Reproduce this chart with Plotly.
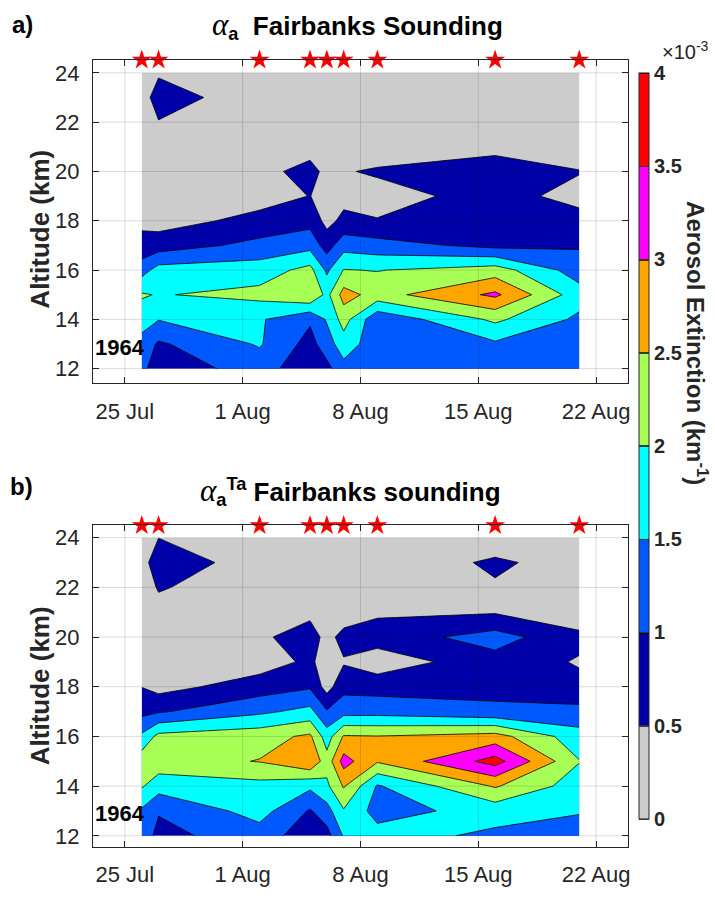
import numpy as np
import plotly.graph_objects as go

# ---------------- data ----------------
sounding_dates = ["1964-07-26", "1964-07-27", "1964-08-02", "1964-08-05", "1964-08-06",
                  "1964-08-07", "1964-08-09", "1964-08-16", "1964-08-21"]
altitude_km = [12, 13, 14, 15, 16, 17, 18, 19, 20, 21, 22, 23, 24]

# panel a) alpha_a, aerosol extinction (x1e-3 km^-1), altitude 12..24 km, one list per sounding
a_jul26 = [1.15, 1.30, 1.75, 2.05, 1.29, 0.645, 0.40, 0.25, 0.20, 0.20, 0.20, 0.20, 0.15]
a_jul27 = [0.70, 0.93, 1.52, 1.97, 1.70, 0.75, 0.30, 0.20, 0.20, 0.25, 0.47, 0.80, 0.42]
a_aug02 = [1.22, 1.55, 1.56, 2.15, 1.75, 1.15, 0.65, 0.30, 0.32, 0.20, 0.15, 0.13, 0.10]
a_aug05 = [0.67, 0.82, 1.07, 2.49, 2.16, 1.33, 0.83, 0.51, 0.70, 0.26, 0.20, 0.15, 0.10]
a_aug06 = [0.85, 1.27, 1.55, 1.85, 1.41, 0.78, 0.35, 0.30, 0.34, 0.20, 0.15, 0.12, 0.10]
a_aug07 = [1.33, 1.77, 2.21, 2.70, 2.02, 1.30, 0.62, 0.35, 0.47, 0.25, 0.20, 0.15, 0.10]
a_aug09 = [1.20, 1.20, 1.12, 2.30, 1.98, 1.20, 0.52, 0.35, 0.55, 0.25, 0.20, 0.15, 0.10]
a_aug16 = [1.20, 1.42, 2.10, 3.10, 2.24, 0.86, 0.75, 0.65, 0.99, 0.23, 0.20, 0.15, 0.10]
a_aug21 = [1.10, 1.20, 1.40, 1.72, 1.25, 0.95, 0.64, 0.37, 0.52, 0.20, 0.15, 0.12, 0.10]

# panel b) alpha_a^Ta
b_jul26 = [1.30, 1.43, 2.05, 2.30, 1.60, 0.85, 0.49, 0.25, 0.20, 0.20, 0.20, 0.17, 0.15]
b_jul27 = [0.85, 1.04, 1.71, 2.30, 2.15, 0.95, 0.32, 0.20, 0.20, 0.30, 0.55, 0.98, 0.49]
b_aug02 = [1.27, 1.70, 1.83, 2.52, 2.31, 1.40, 0.75, 0.25, 0.39, 0.20, 0.15, 0.12, 0.10]
b_aug05 = [0.70, 0.95, 1.60, 2.98, 2.59, 1.65, 0.94, 0.60, 0.80, 0.345, 0.20, 0.15, 0.10]
b_aug06 = [0.80, 1.30, 1.90, 2.20, 1.75, 1.05, 0.30, 0.25, 0.30, 0.20, 0.15, 0.12, 0.10]
b_aug07 = [1.55, 1.95, 2.55, 3.20, 2.55, 1.30, 0.85, 0.45, 0.70, 0.15, 0.12, 0.10, 0.10]
b_aug09 = [1.70, 1.30, 1.45, 2.55, 2.52, 1.31, 0.81, 0.20, 0.75, 0.42, 0.20, 0.15, 0.10]
b_aug16 = [1.40, 1.70, 2.55, 3.70, 2.70, 1.10, 0.86, 0.82, 1.20, 0.46, 0.45, 0.58, 0.20]
b_aug21 = [1.20, 1.55, 1.75, 2.02, 1.71, 1.14, 0.65, 0.45, 0.64, 0.12, 0.20, 0.29, 0.20]

level_values = [0, 0.5, 1, 1.5, 2, 2.5, 3, 3.5, 4]
level_labels = ["0", "0.5", "1", "1.5", "2", "2.5", "3", "3.5", "4"]
band_colors = ["#CCCCCC", "#0000A8", "#0058FF", "#00FFFF", "#A8FF55",
               "#FFA500", "#FF00FF", "#FF0000"]
xtick_dates = ["1964-07-25", "1964-08-01", "1964-08-08", "1964-08-15", "1964-08-22"]
xtick_labels = ["25 Jul", "1 Aug", "8 Aug", "15 Aug", "22 Aug"]
ytick_vals = [12, 14, 16, 18, 20, 22, 24]

# ---------------- build ----------------
z_a = np.array([a_jul26, a_jul27, a_aug02, a_aug05, a_aug06, a_aug07, a_aug09, a_aug16, a_aug21]).T
z_b = np.array([b_jul26, b_jul27, b_aug02, b_aug05, b_aug06, b_aug07, b_aug09, b_aug16, b_aug21]).T

step = level_values[1] - level_values[0]
zmin, zmax = level_values[0], level_values[-1]
# plotly maps the colorscale onto [zmin - step/2, zmax - step/2] and samples each band at its middle
lo, hi = zmin - step / 2, zmax - step / 2
bounds = [lo] + [level_values[k] + step for k in range(len(band_colors) - 1)] + [hi]
colorscale = []
for k, c in enumerate(band_colors):
    colorscale.append([(bounds[k] - lo) / (hi - lo), c])
    colorscale.append([min(1.0, (bounds[k + 1] - lo) / (hi - lo)), c])

W, H = 715, 899
ML, MR, MT, MB = 93, 87, 60, 41
PW, PH = W - ML - MR, H - MT - MB


def px(x):
    return (x - ML) / PW


def py(y):
    return (H - MB - y) / PH


dom_a = [py(388), 1.0]
dom_b = [0.0, py(532)]
X_RANGE = ["1964-07-23 02:30", "1964-08-23 21:30"]
YR_A = [11.4, 24.52]
YR_B = [11.55, 24.49]

TXT = "#262626"
FONT = "Liberation Sans, Arial, sans-serif"

fig = go.Figure()

cbar = dict(
    x=px(639), xanchor="left", thickness=10, xpad=0, ypad=0,
    lenmode="fraction", len=(829 - 73) / PH, y=py(73), yanchor="top",
    outlinewidth=1, outlinecolor=TXT,
    tickvals=level_values, ticktext=level_labels,
    ticks="inside", ticklen=10, tickwidth=1, tickcolor="#333333",
    tickfont=dict(size=20, color=TXT, family=FONT, weight="bold"),
)

for z, xa, ya, show in [(z_a, "x", "y", True), (z_b, "x2", "y2", False)]:
    fig.add_trace(go.Contour(
        x=sounding_dates, y=altitude_km, z=z.tolist(),
        zmin=zmin, zmax=zmax, autocontour=False,
        contours=dict(start=zmin, end=zmax, size=step, coloring="fill", showlines=True),
        line=dict(color="black", width=0.8, smoothing=0),
        colorscale=colorscale, showscale=show, colorbar=cbar if show else None,
        xaxis=xa, yaxis=ya, hoverinfo="skip",
    ))

for xa, ya, yr in [("x", "y", YR_A), ("x2", "y2", YR_B)]:
    fig.add_trace(go.Scatter(
        x=sounding_dates, y=[yr[1]] * len(sounding_dates), mode="markers",
        marker=dict(symbol="star", size=15, color="#FF0000", line=dict(width=0)),
        cliponaxis=False, xaxis=xa, yaxis=ya, showlegend=False, hoverinfo="skip",
    ))

axis_common = dict(
    showline=True, linecolor=TXT, linewidth=1, mirror="ticks",
    ticks="inside", ticklen=6, tickcolor=TXT, showgrid=False, zeroline=False,
    tickfont=dict(size=22, color=TXT, family=FONT), ticklabelstandoff=8,
)

fig.update_layout(
    width=W, height=H,
    margin=dict(l=ML, r=MR, t=MT, b=MB),
    paper_bgcolor="white", plot_bgcolor="white",
    showlegend=False,
    font=dict(family=FONT, color=TXT),
    xaxis=dict(domain=[0, 1], anchor="y", type="date", range=X_RANGE,
               tickvals=xtick_dates, ticktext=xtick_labels, **axis_common),
    yaxis=dict(domain=dom_a, anchor="x", range=YR_A, tickvals=ytick_vals, **axis_common),
    xaxis2=dict(domain=[0, 1], anchor="y2", type="date", range=X_RANGE,
                tickvals=xtick_dates, ticktext=xtick_labels, **axis_common),
    yaxis2=dict(domain=dom_b, anchor="x2", range=YR_B, tickvals=ytick_vals, **axis_common),
)

# grid lines drawn above the filled contours (as in the original)
shapes = []
grid_col = "rgba(40,40,40,0.16)"
for xa, ya in [("x", "y"), ("x2", "y2")]:
    for d in xtick_dates:
        shapes.append(dict(type="line", xref=xa, yref=ya + " domain", x0=d, x1=d, y0=0, y1=1,
                           line=dict(color=grid_col, width=1), layer="above"))
    for v in ytick_vals:
        shapes.append(dict(type="line", xref=xa + " domain", yref=ya, x0=0, x1=1, y0=v, y1=v,
                           line=dict(color=grid_col, width=1), layer="above"))
fig.update_layout(shapes=shapes)


def note(text, x, y, size, color="black", angle=0, xref="paper", yref="paper", xanchor="center"):
    return dict(text=text, xref=xref, yref=yref, x=x, y=y, xanchor=xanchor, yanchor="middle",
                textangle=angle, showarrow=False, font=dict(size=size, color=color, family=FONT))


ALPHA = "<span style='font-family:Liberation Serif;font-size:31px'><i>α</i></span>"
ann = [
    note("<b>a)</b>", px(22), py(24), 24),
    note("<b>b)</b>", px(21), py(492), 24),
    note(ALPHA + "<sub><b>a</b></sub>  <b>Fairbanks Sounding</b>", px(357), py(25), 26),
    note(ALPHA + "<sub><b>a</b></sub><sup><b>Ta</b></sup> <b>Fairbanks sounding</b>",
         px(350), py(498), 26),
    note("<b>Altitude (km)</b>", px(40), py(232), 26, TXT, -90),
    note("<b>Altitude (km)</b>", px(40), py(695), 26, TXT, -90),
    note("<b>1964</b>", 0.0, 12.85, 22, "black", 0, "x domain", "y", "left"),
    note("<b>1964</b>", 0.0, 12.9, 22, "black", 0, "x2 domain", "y2", "left"),
    note("×10<sup>-3</sup>", px(685), py(50), 20, TXT),
    note("<b>Aerosol Extinction (km<sup>-1</sup>)</b>", px(697), py(347), 24, TXT, 90),
]
fig.update_layout(annotations=ann)

fig.write_html("out.html", config={"displayModeBar": False},
               post_script="document.body.style.margin='0px';document.body.style.padding='0px';")
